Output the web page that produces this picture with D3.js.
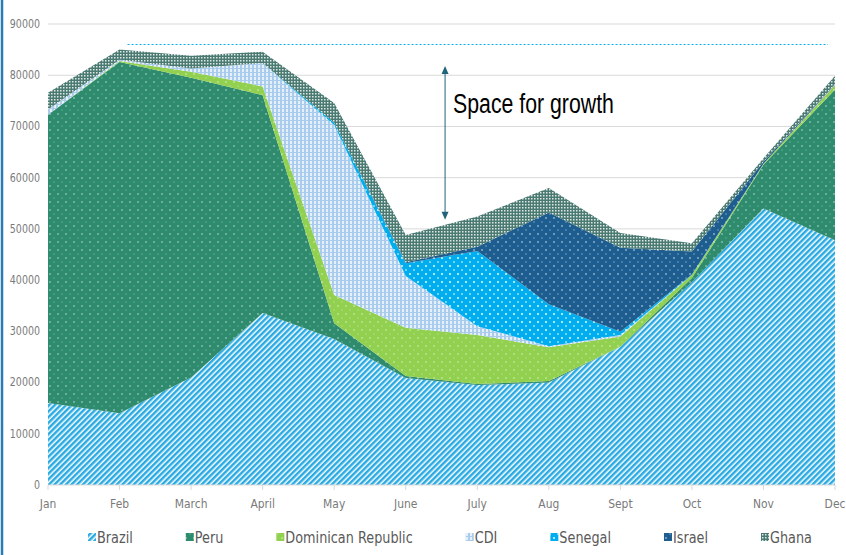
<!DOCTYPE html>
<html>
<head>
<meta charset="utf-8">
<script src="https://cdn.jsdelivr.net/npm/d3@7/dist/d3.min.js"></script>
<style>
  body { margin: 0; background: #fff; }
  svg { display: block; }
</style>
</head>
<body>
<div id="chart"></div>
<script>

// values, per month
var months = ["Jan", "Feb", "March", "April", "May", "June", "July", "Aug", "Sept", "Oct", "Nov", "Dec"];
var brazil   = [16000, 14000, 21000, 33600, 28500, 20900, 19500, 20000, 27000, 39600, 54000, 47800];
var peru     = [56300, 68600, 58500, 42500,  3100,   400,   200,   300,     0,   800,  8500, 29400];
var domRep   = [    0,   200,  1200,  1700,  5500,  9400,  9600,  6600,  2000,   600,   200,   900];
var cdi      = [ 1000,   200,   600,  4600, 33200, 10100,  1700,   200,   300,     0,     0,   100];
var senegal  = [    0,     0,     0,     0,   400,  2500, 14700,  8200,   600,   100,     0,     0];
var israel   = [    0,     0,     0,     0,     0,   200,   800, 17900, 16400,  4500,   400,   100];
var ghana    = [ 3300,  2000,  2500,  2200,  3900,  5300,  5900,  4800,  2900,  1600,   700,  1600];

var seriesNames = ["Brazil", "Peru", "Dominican Republic", "CDI", "Senegal", "Israel", "Ghana"];
var yTicks = [0, 10000, 20000, 30000, 40000, 50000, 60000, 70000, 80000, 90000];

// annotation
var targetLevel = 86000;
var growthArrow = [81800, 51800];
var growthLabel = "Space for growth";

var W = 846, H = 555;
var narrow = 0.76;   // the reference is squeezed sideways

var svg = d3.select("#chart").append("svg")
    .attr("width", W)
    .attr("height", H);

var x = d3.scalePoint().domain(months).range([48, 835]);
var y = d3.scaleLinear().domain([0, 90000]).range([485, 24]);

//--- fill patterns
var defs = svg.append("defs");

function dotPattern(id, base, r, step, op1, op2) {
    var p = defs.append("pattern").attr("id", id)
        .attr("patternUnits", "userSpaceOnUse")
        .attr("width", step).attr("height", step);
    p.append("rect").attr("width", step).attr("height", step).attr("fill", base);
    p.append("circle").attr("cx", step / 4).attr("cy", step / 4).attr("r", r)
        .attr("fill", "#fff").attr("opacity", op1);
    p.append("circle").attr("cx", step * 3 / 4).attr("cy", step * 3 / 4).attr("r", r)
        .attr("fill", "#fff").attr("opacity", op2);
}

// Brazil: upward diagonal stripes
var pb = defs.append("pattern").attr("id", "p0")
    .attr("patternUnits", "userSpaceOnUse")
    .attr("width", 4).attr("height", 4)
    .attr("patternTransform", "rotate(45)");
pb.append("rect").attr("width", 4).attr("height", 4).attr("fill", "#fff");
pb.append("rect").attr("width", 2.5).attr("height", 4).attr("fill", "#2aaae2");

dotPattern("p1", "#2e8b6d", 0.7, 8, 0.85, 0.35);
dotPattern("p2", "#92d050", 0.7, 8, 0.8, 0.35);

// CDI: light plaid
var pc = defs.append("pattern").attr("id", "p3")
    .attr("patternUnits", "userSpaceOnUse")
    .attr("width", 4).attr("height", 4);
pc.append("rect").attr("width", 4).attr("height", 4).attr("fill", "#e6f0fa");
pc.append("rect").attr("width", 2).attr("height", 4).attr("fill", "#a9cbec");
pc.append("rect").attr("width", 4).attr("height", 1).attr("fill", "#a9cbec");

dotPattern("p4", "#00aeef", 1, 8, 0.9, 0.6);
dotPattern("p5", "#1d5d8f", 0.8, 8, 0.85, 0.45);

// Ghana: small checker
var pg = defs.append("pattern").attr("id", "p6")
    .attr("patternUnits", "userSpaceOnUse")
    .attr("width", 3).attr("height", 3);
pg.append("rect").attr("width", 3).attr("height", 3).attr("fill", "#4a7a72");
pg.append("rect").attr("width", 1.5).attr("height", 1.5).attr("fill", "#dfe8e6");

//--- gridlines
svg.append("g").selectAll("line")
    .data(yTicks.slice(1))
    .enter().append("line")
    .attr("x1", x("Jan")).attr("x2", x("Dec"))
    .attr("y1", function(d) { return y(d); })
    .attr("y2", function(d) { return y(d); })
    .attr("stroke", "#d9d9d9")
    .attr("stroke-width", 1);

//--- stacked areas
var table = months.map(function(m, i) {
    return {
        month: m,
        "Brazil": brazil[i],
        "Peru": peru[i],
        "Dominican Republic": domRep[i],
        "CDI": cdi[i],
        "Senegal": senegal[i],
        "Israel": israel[i],
        "Ghana": ghana[i]
    };
});

var stacked = d3.stack().keys(seriesNames)(table);

var area = d3.area()
    .x(function(d) { return x(d.data.month); })
    .y0(function(d) { return y(d[0]); })
    .y1(function(d) { return y(d[1]); });

svg.append("g").selectAll("path")
    .data(stacked)
    .enter().append("path")
    .attr("d", area)
    .attr("fill", function(d, i) { return "url(#p" + i + ")"; });

//--- x axis
var xAxis = svg.append("g")
    .attr("transform", "translate(0," + y(0) + ")");
xAxis.append("line")
    .attr("x1", x("Jan")).attr("x2", x("Dec"))
    .attr("stroke", "#d9d9d9");
xAxis.selectAll(".tick")
    .data(months)
    .enter().append("line")
    .attr("x1", function(d) { return x(d); })
    .attr("x2", function(d) { return x(d); })
    .attr("y1", 0).attr("y2", 5)
    .attr("stroke", "#d9d9d9");

function squeezedText(parent, px, py, str, size, anchor, fill, sx) {
    return parent.append("text")
        .attr("transform", "translate(" + px + "," + py + ") scale(" + (sx || narrow) + ",1)")
        .attr("text-anchor", anchor)
        .attr("dominant-baseline", "central")
        .attr("font-family", "'DejaVu Sans', sans-serif")
        .attr("font-size", size)
        .attr("fill", fill)
        .text(str);
}

months.forEach(function(m) {
    squeezedText(svg, x(m), 504, m, 12.5, "middle", "#7a7a7a", 0.86);
});

yTicks.forEach(function(t) {
    squeezedText(svg, 40, y(t), t, 12.5, "end", "#7a7a7a");
});

//--- target line and growth arrow
var step = x.step();
svg.append("line")
    .attr("x1", x("Feb") + 8).attr("x2", x("Dec") - 7)
    .attr("y1", y(targetLevel)).attr("y2", y(targetLevel))
    .attr("stroke", "#00b0f0")
    .attr("stroke-width", 1)
    .attr("stroke-dasharray", "2,2");

var ax = x("June") + step * 0.55;
var arrowColor = "#1f6478";
svg.append("line")
    .attr("x1", ax).attr("x2", ax)
    .attr("y1", y(growthArrow[0]) + 6).attr("y2", y(growthArrow[1]) - 6)
    .attr("stroke", arrowColor).attr("stroke-width", 1);
svg.append("path")
    .attr("d", "M" + ax + "," + y(growthArrow[0]) + " l-3.5,8 l7,0 z")
    .attr("fill", arrowColor);
svg.append("path")
    .attr("d", "M" + ax + "," + y(growthArrow[1]) + " l-3.5,-8 l7,0 z")
    .attr("fill", arrowColor);

svg.append("text")
    .attr("transform", "translate(" + (ax + 8) + "," + 113 + ") scale(" + narrow + ",1)")
    .attr("font-family", "'Liberation Sans', Arial, sans-serif")
    .attr("font-size", 28)
    .attr("fill", "#000")
    .text(growthLabel);

//--- legend
var legend = svg.append("g");
var lx = 88, ly = 537, lsx = 0.778;
seriesNames.forEach(function(name, i) {
    legend.append("rect")
        .attr("x", lx).attr("y", ly - 4)
        .attr("width", 8).attr("height", 8)
        .attr("fill", "url(#p" + i + ")");
    var t = squeezedText(legend, lx + 9, ly, name, 16.5, "start", "#595959", lsx);
    var w = t.node().getComputedTextLength() * lsx;
    lx += 9 + w + 53;
});

//--- left frame edge
svg.append("line")
    .attr("x1", 2).attr("x2", 2)
    .attr("y1", 0).attr("y2", H)
    .attr("stroke", "#2a7ab4")
    .attr("stroke-width", 2.5);

</script>
</body>
</html>
